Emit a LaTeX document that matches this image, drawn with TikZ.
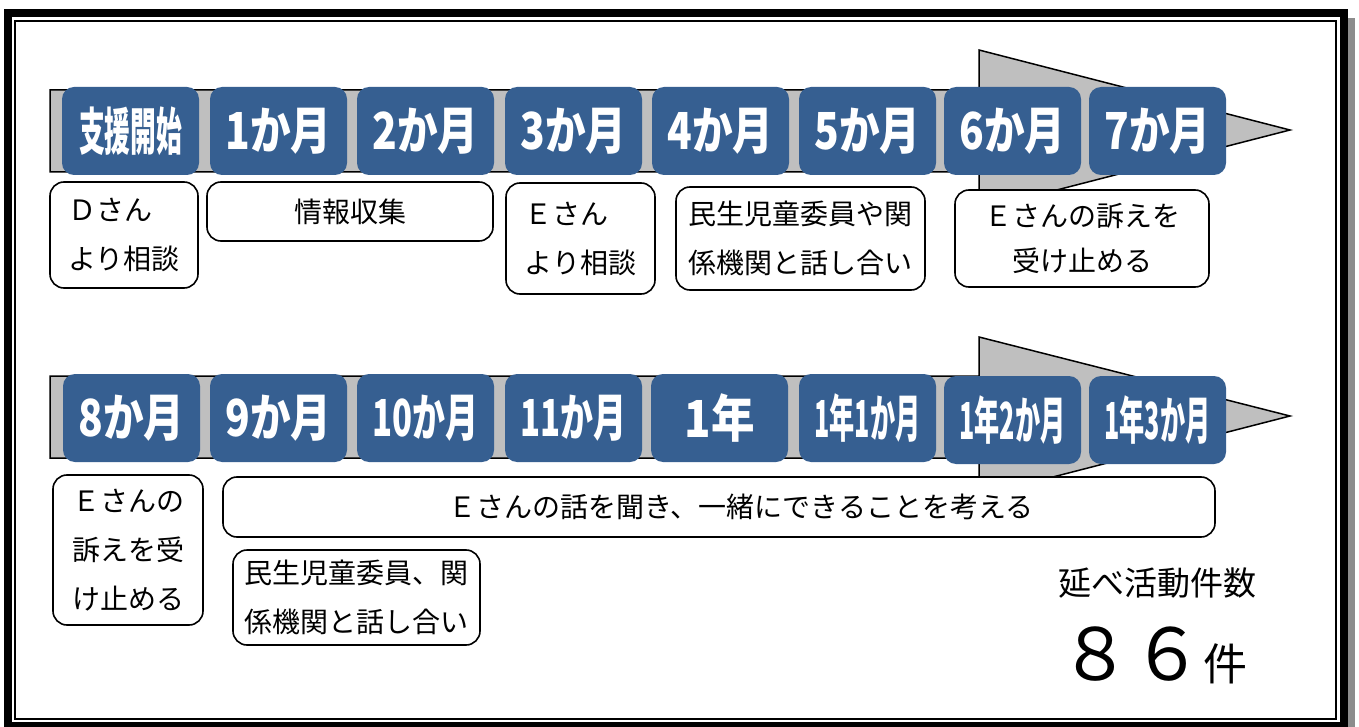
\documentclass[tikz,border=0pt]{standalone}
\usepackage{fontspec}
\setmainfont{Noto Sans CJK JP}
\usepackage{graphicx}
\definecolor{boxblue}{RGB}{54,95,145}
\definecolor{bargray}{RGB}{191,191,191}
\definecolor{shadowgray}{RGB}{140,140,140}
\tikzset{
  month/.style={rectangle, rounded corners=12pt, fill=boxblue, text=white,
    minimum width=137pt, minimum height=88pt, inner sep=0pt,
    font=\fontsize{51}{51}\selectfont\bfseries},
  note/.style={rectangle, rounded corners=14pt, draw=black, line width=1.6pt,
    fill=white, inner sep=0pt, font=\fontsize{28}{49}\selectfont},
  timebar/.style={fill=bargray, draw=black, line width=1.5pt, line join=miter},
}
\newcommand\sq[2][106pt]{\resizebox{#1}{\height}{#2}}
\begin{document}
\begin{tikzpicture}[x=1pt,y=-1pt]
\useasboundingbox (0,0) rectangle (1359,727);
% frame
\fill[shadowgray] (12,18) rectangle (1355,735);
\draw[line width=8pt, fill=white] (8,13.5) rectangle (1344,725.7);
\draw[line width=1.8pt] (15,21) rectangle (1336,719);
% timeline arrows
\draw[timebar] (50,90) -- (979,90) -- (979,50) -- (1290,130) -- (979,210) -- (979,172) -- (50,172) -- cycle;
\draw[timebar] (50,376) -- (979,376) -- (979,337) -- (1290,416) -- (979,496) -- (979,458) -- (50,458) -- cycle;
% row 1 months
\node[month] (m0) at (130.5,131) {\sq[103pt]{支援開始}};
\node[month] (m1) at (278.5,131) {\sq{1か月}};
\node[month] (m2) at (425.5,131) {\sq{2か月}};
\node[month] (m3) at (573.5,131) {\sq{3か月}};
\node[month] (m4) at (720.5,131) {\sq{4か月}};
\node[month] (m5) at (867.5,131) {\sq{5か月}};
\node[month] (m6) at (1012.5,131) {\sq{6か月}};
\node[month] (m7) at (1157.5,131) {\sq{7か月}};
% row 2 months
\node[month] (m8) at (131.5,418) {\sq{8か月}};
\node[month] (m9) at (278.5,418) {\sq{9か月}};
\node[month] (m10) at (425.5,418) {\sq{10か月}};
\node[month] (m11) at (573.5,418) {\sq{11か月}};
\node[month] (m12) at (719.5,418) {\sq[70pt]{1年}};
\node[month] (m13) at (867.5,418) {\sq{1年1か月}};
\node[month] (m14) at (1012.5,420) {\sq{1年2か月}};
\node[month] (m15) at (1157.5,420) {\sq{1年3か月}};
% row 1 notes
\node[note, minimum width=148pt, minimum height=106pt, align=left] (n1) at (124,235) {Ｄさん\\より相談};
\node[note, minimum width=286pt, minimum height=59pt] (n2) at (350,211.5) {情報収集};
\node[note, minimum width=149pt, minimum height=111pt, align=left] (n3) at (580.5,238.5) {Ｅさん\\より相談};
\node[note, minimum width=249pt, minimum height=103pt, align=center] (n4) at (800.5,238.5) {民生児童委員や関\\係機関と話し合い};
\node[note, minimum width=254pt, minimum height=97pt, align=center, font=\fontsize{28}{45}\selectfont] (n5) at (1082,238.5) {Ｅさんの訴えを\\受け止める};
% row 2 notes
\node[note, minimum width=150pt, minimum height=150pt, align=center] (n6) at (128,550) {Ｅさんの\\訴えを受\\け止める};
\node[note, minimum width=992pt, minimum height=60pt] (n7) at (719,507) {\hspace*{44pt}Ｅさんの話を聞き、一緒にできることを考える};
\node[note, minimum width=247pt, minimum height=95pt, align=center] (n8) at (356.5,597.5) {民生児童委員、関\\係機関と話し合い};
% totals
\node (lbl) at (1157,583) {\fontsize{33}{33}\selectfont 延べ活動件数};
\node[anchor=base west, inner sep=0pt] (cnt) at (1059,680) {\fontsize{72}{72}\selectfont ８６\fontsize{44}{44}\selectfont 件};
\end{tikzpicture}
\end{document}
